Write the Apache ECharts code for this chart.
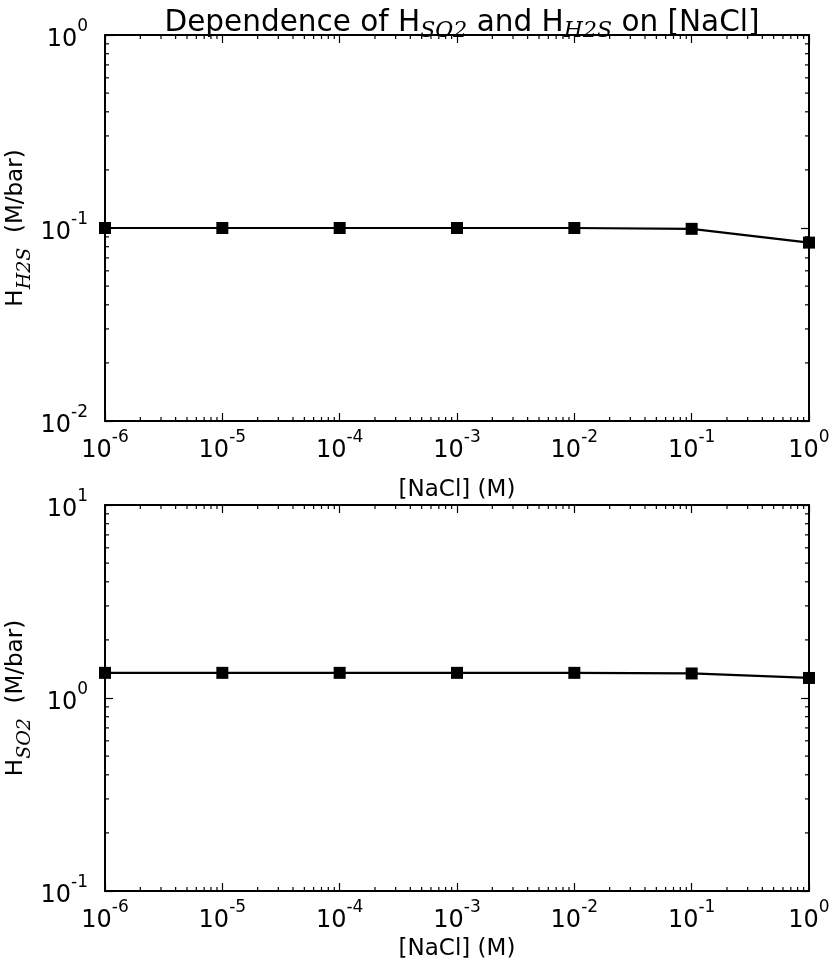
<!DOCTYPE html>
<html>
<head>
<meta charset="utf-8">
<script src="https://cdn.jsdelivr.net/npm/echarts@6/dist/echarts.min.js"></script>
<style>
  html, body { margin: 0; padding: 0; background: #fff; }
  #chart-container { width: 829px; height: 962px; }
</style>
</head>
<body>
<div id="chart-container"></div>
<script>
// [NaCl] in M
const nacl = [1e-6, 1e-5, 1e-4, 1e-3, 1e-2, 1e-1, 1];
// Henry's constants, M/bar
const hH2S = [0.1, 0.1, 0.1, 0.1, 0.1, 0.099, 0.084];
const hSO2 = [1.35, 1.35, 1.35, 1.35, 1.35, 1.34, 1.27];

// axis ranges
const xRange = [1e-6, 1];
const yRangeH2S = [1e-2, 1];
const yRangeSO2 = [1e-1, 10];

(() => {
  var dom = document.getElementById("chart-container");
  var chart = echarts.init(dom, null, { renderer: "canvas" });

  const font = "DejaVu Sans";
  const rich = {
    b: { fontSize: 24, fontFamily: font, color: "#000", lineHeight: 34, verticalAlign: "bottom" },
    s: { fontSize: 17, fontFamily: font, color: "#000", lineHeight: 16, verticalAlign: "top" },
  };
  const subRich = {
    m: { fontSize: 23, fontFamily: font, color: "#000", lineHeight: 30, verticalAlign: "top" },
    sub: { fontSize: 19, fontFamily: "DejaVu Serif", fontStyle: "italic", color: "#000", lineHeight: 18, verticalAlign: "bottom" },
  };
  const pow10 = (v) => "{b|10}{s|" + Math.round(Math.log10(v)) + "}";

  // minor tick positions (2..9 x 10^k) inside a range
  function minors(lo, hi) {
    const out = [];
    for (let e = Math.round(Math.log10(lo)); e < Math.round(Math.log10(hi)); e++) {
      for (let m = 2; m <= 9; m++) out.push(m * Math.pow(10, e));
    }
    return out;
  }
  function minorData(yr) {
    const d = [];
    minors(xRange[0], xRange[1]).forEach((x) => d.push([x, yr[0], yr[1], 0]));
    minors(yr[0], yr[1]).forEach((y) => d.push([xRange[0], y, xRange[1], 1]));
    return d;
  }
  function renderMinor(params, api) {
    const k = api.value(3);
    const len = 4;
    let a, b, s;
    if (k === 0) {
      a = api.coord([api.value(0), api.value(1)]);
      b = api.coord([api.value(0), api.value(2)]);
      s = [[a[0], a[1], a[0], a[1] - len], [b[0], b[1], b[0], b[1] + len]];
    } else {
      a = api.coord([api.value(0), api.value(1)]);
      b = api.coord([api.value(2), api.value(1)]);
      s = [[a[0], a[1], a[0] + len, a[1]], [b[0], b[1], b[0] - len, b[1]]];
    }
    return {
      type: "group",
      children: s.map((p) => ({
        type: "line",
        shape: { x1: p[0], y1: p[1], x2: p[2], y2: p[3] },
        style: { stroke: "#000", lineWidth: 1.2 },
      })),
    };
  }

  function xAxes(gi, nameGap) {
    const base = {
      type: "log",
      gridIndex: gi,
      min: xRange[0],
      max: xRange[1],
      axisLine: { lineStyle: { color: "#000", width: 2 } },
      axisTick: { inside: true, length: 8, lineStyle: { color: "#000", width: 1.2 } },
      splitLine: { show: false },
    };
    return [
      Object.assign({}, base, {
        position: "bottom",
        name: "[NaCl] (M)",
        nameLocation: "middle",
        nameGap: nameGap,
        nameMoveOverlap: false,
        nameTextStyle: { fontSize: 23, fontFamily: font, color: "#000" },
        axisLabel: { margin: 8, formatter: pow10, rich: rich },
      }),
      Object.assign({}, base, { position: "top", axisLabel: { show: false } }),
    ];
  }
  function yAxes(gi, yr, name) {
    const base = {
      type: "log",
      gridIndex: gi,
      min: yr[0],
      max: yr[1],
      axisLine: { lineStyle: { color: "#000", width: 2 } },
      axisTick: { inside: true, length: 8, lineStyle: { color: "#000", width: 1.2 } },
      splitLine: { show: false },
    };
    return [
      Object.assign({}, base, {
        position: "left",
        name: name,
        nameLocation: "middle",
        nameRotate: 90,
        nameGap: 70,
        nameMoveOverlap: false,
        nameTextStyle: { rich: subRich },
        axisLabel: { margin: 17, formatter: pow10, rich: rich },
      }),
      Object.assign({}, base, { position: "right", axisLabel: { show: false } }),
    ];
  }

  const lineSeries = (name, xi, yi, values) => ({
    name: name,
    type: "line",
    xAxisIndex: xi,
    yAxisIndex: yi,
    data: nacl.map((x, i) => [x, values[i]]),
    symbol: "rect",
    symbolSize: 12,
    lineStyle: { color: "#000", width: 2.2 },
    itemStyle: { color: "#000" },
    clip: true,
    z: 5,
  });

  const option = {
    animation: false,
    title: {
      text: "Dependence of H{sub|SO2} and H{sub|H2S} on [NaCl]",
      left: 457,
      textAlign: "center",
      top: 0,
      textStyle: {
        rich: {
          sub: { fontSize: 22, fontFamily: "DejaVu Serif", fontStyle: "italic", color: "#000", padding: [15, 0, 0, 0] },
        },
        fontSize: 29.5,
        fontFamily: font,
        fontWeight: "normal",
        color: "#000",
      },
    },
    grid: [
      { left: 105, top: 35, width: 704, height: 386, outerBoundsMode: "none" },
      { left: 105, top: 505, width: 704, height: 386, outerBoundsMode: "none" },
    ],
    xAxis: xAxes(0, 58).concat(xAxes(1, 47)),
    yAxis: yAxes(0, yRangeH2S, "{m|H}{sub|H2S}{m|  (M/bar)}").concat(
      yAxes(1, yRangeSO2, "{m|H}{sub|SO2}{m|  (M/bar)}")
    ),
    series: [
      lineSeries("H2S", 0, 0, hH2S),
      lineSeries("SO2", 2, 2, hSO2),
      { type: "custom", xAxisIndex: 0, yAxisIndex: 0, data: minorData(yRangeH2S), renderItem: renderMinor, silent: true, clip: false },
      { type: "custom", xAxisIndex: 2, yAxisIndex: 2, data: minorData(yRangeSO2), renderItem: renderMinor, silent: true, clip: false },
    ],
  };
  chart.setOption(option);
  window.addEventListener("resize", chart.resize);
})();
</script>
</body>
</html>
